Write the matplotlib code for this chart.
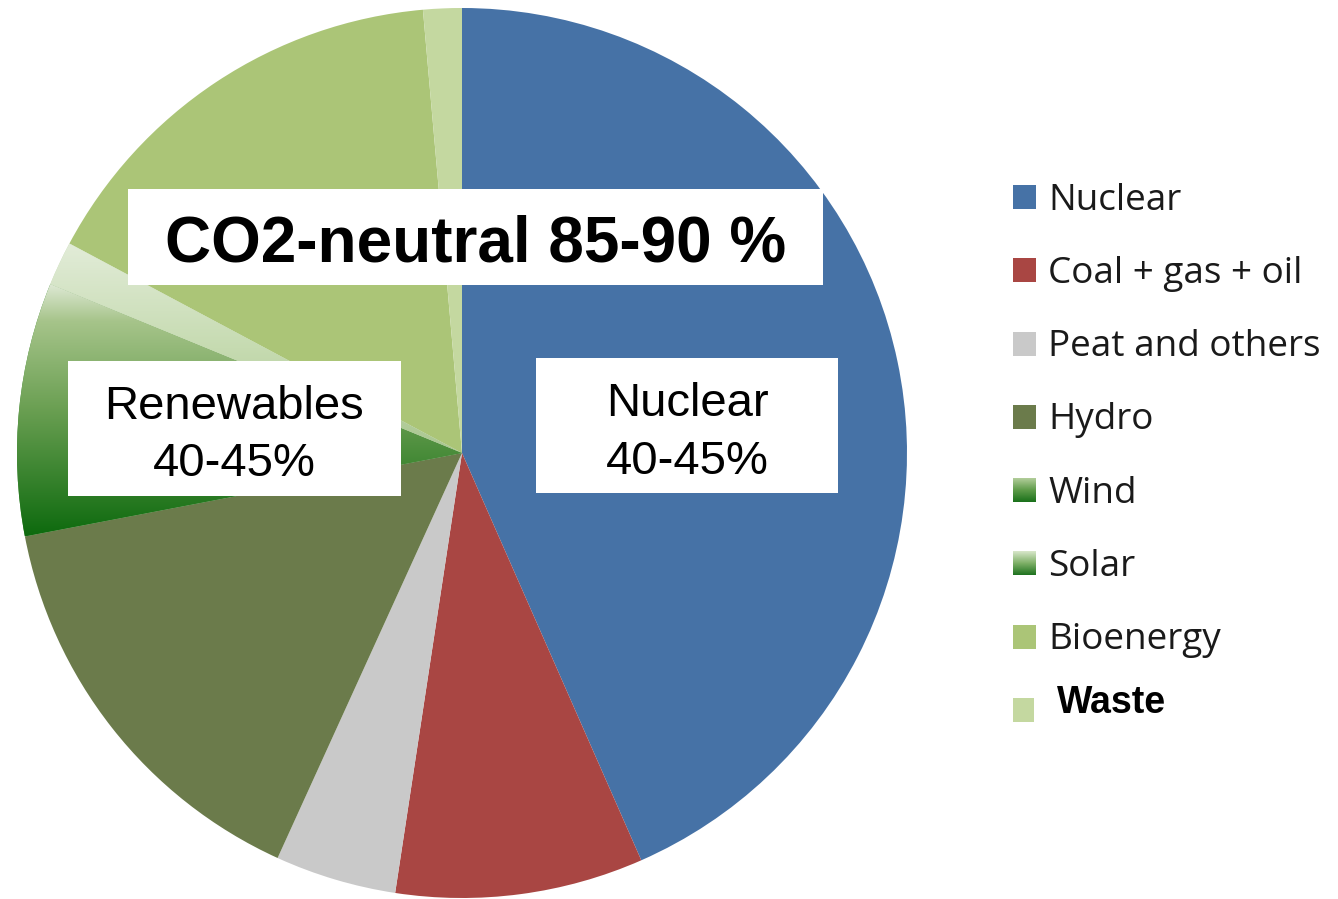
import numpy as np
import matplotlib
matplotlib.use("Agg")
import matplotlib.pyplot as plt
from matplotlib.patches import Rectangle
from matplotlib.colors import LinearSegmentedColormap

# Electricity generation by source (share of total, %)
sources = ["Nuclear", "Coal + gas + oil", "Peat and others", "Hydro",
           "Wind", "Solar", "Bioenergy", "Waste"]
shares = [43.4, 9.0, 4.4, 15.2, 9.2, 1.6, 15.8, 1.4]
colors = ["#4672a6", "#a94643", "#c9c9c9", "#6b7b4b",
          "#3f8a35", "#c8dcb8", "#abc577", "#c4d8a0"]

# Vertical gradient fills (top -> bottom) for the wind and solar slices
slice_gradients = {
    "Wind": [(0.0, "#dfead5"), (0.15, "#a6c48a"), (0.5, "#6a9f52"), (1.0, "#0d6a0e")],
    "Solar": [(0.0, "#e2ecd8"), (0.5, "#c6dbb1"), (1.0, "#a9c690")],
}
swatch_gradients = {
    "Wind": [(0.0, "#b2cd9a"), (0.5, "#5e9b49"), (1.0, "#1a711b")],
    "Solar": [(0.0, "#d8e7ca"), (0.5, "#7fb068"), (1.0, "#1f7320")],
}

headline = "CO2-neutral 85-90 %"
nuclear_label = "Nuclear\n40-45%"
renewables_label = "Renewables\n40-45%"

W, H = 1338, 899
fig = plt.figure(figsize=(W / 100, H / 100), dpi=100)
fig.patch.set_facecolor("white")

# Pie axes, placed in pixel units
cx, cy, r = 462, 453, 445
ax = fig.add_axes([(cx - r) / W, (H - cy - r) / H, 2 * r / W, 2 * r / H])
wedges, _ = ax.pie(shares, colors=colors, startangle=90, counterclock=False,
                   radius=1, wedgeprops=dict(linewidth=0, antialiased=True))

for name, stops in slice_gradients.items():
    w = wedges[sources.index(name)]
    ext = w.get_path().get_extents()
    cmap = LinearSegmentedColormap.from_list(name + "_grad", stops)
    grad = np.linspace(0, 1, 256).reshape(-1, 1)
    im = ax.imshow(grad, cmap=cmap, extent=[ext.x0, ext.x1, ext.y0, ext.y1],
                   origin="upper", aspect="auto", interpolation="bilinear",
                   zorder=w.get_zorder() + 0.1)
    im.set_clip_path(w)

ax.set_xlim(-1, 1)
ax.set_ylim(-1, 1)
ax.set_aspect("auto")
ax.axis("off")

# Overlay axes in pixel coordinates for text boxes and legend
ov = fig.add_axes([0, 0, 1, 1], zorder=5)
ov.set_xlim(0, W)
ov.set_ylim(H, 0)
ov.axis("off")
ov.patch.set_alpha(0)

arial = "Liberation Sans"

# Headline box
ov.add_patch(Rectangle((128, 189), 695, 96, fc="white", ec="none"))
ov.text(476, 261, headline, ha="center", va="baseline", fontsize=46,
        fontweight="bold", family=arial, color="black")

# Nuclear box
ov.add_patch(Rectangle((536, 358), 302, 135, fc="white", ec="none"))
for line, base in zip(nuclear_label.split("\n"), [416, 474]):
    ov.text(687, base, line, ha="center", va="baseline", fontsize=34,
            family=arial, color="black")

# Renewables box
ov.add_patch(Rectangle((68, 361), 333, 135, fc="white", ec="none"))
for line, base in zip(renewables_label.split("\n"), [419, 476]):
    ov.text(234, base, line, ha="center", va="baseline", fontsize=34,
            family=arial, color="black")

# Legend
sq_x, sq_w, sq_h = 1013, 23, 24
text_x = 1048
centers = [197 + 73.3 * i for i in range(7)]
for i, name in enumerate(sources[:-1]):
    yc = centers[i]
    if name in swatch_gradients:
        cmap = LinearSegmentedColormap.from_list(name + "_sw", swatch_gradients[name])
        grad = np.linspace(0, 1, 64).reshape(-1, 1)
        ov.imshow(grad, cmap=cmap, extent=[sq_x, sq_x + sq_w, yc + sq_h / 2, yc - sq_h / 2],
                  origin="upper", aspect="auto", interpolation="bilinear")
    else:
        ov.add_patch(Rectangle((sq_x, yc - sq_h / 2), sq_w, sq_h,
                               fc=colors[i], ec="none"))
    ov.text(text_x, yc + 12.5, name, ha="left", va="baseline", fontsize=26.6,
            family="Open Sans", color="#1a1a1a")

# Last legend entry set in bold
ov.add_patch(Rectangle((sq_x, 698), 21, 24, fc=colors[-1], ec="none"))
ov.text(1057, 713, sources[-1], ha="left", va="baseline", fontsize=27,
        fontweight="bold", family=arial, color="black")

ov.set_xlim(0, W)
ov.set_ylim(H, 0)

fig.savefig("out.png", dpi=100, facecolor="white")
